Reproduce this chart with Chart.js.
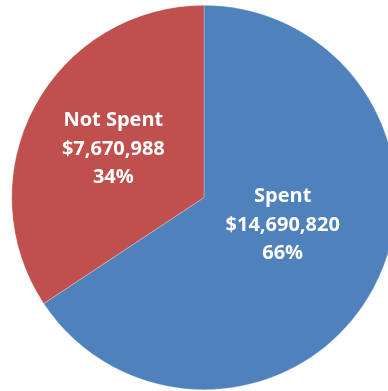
<!DOCTYPE html>
<html lang="en">
  <head>
    <meta charset="UTF-8" />
    <script src="https://cdn.jsdelivr.net/npm/chart.js"></script>
    <title>Spent vs Not Spent</title>
  </head>
  <body style="margin: 0; width: 388px; height: 391px; overflow: hidden; background: #fff">
    <div style="position: absolute; left: 0; top: 0; width: 408px; height: 395px">
      <canvas id="pie"></canvas>
    </div>
    <script>
      const labels = ['Spent', 'Not Spent'];
      const amounts = [14690820, 7670988];
      const colors = ['#4F81BD', '#C0504D'];

      const total = amounts.reduce((a, b) => a + b, 0);

      const sliceLabels = {
        id: 'sliceLabels',
        afterDatasetsDraw(chart, args, opts) {
          const ctx = chart.ctx;
          const meta = chart.getDatasetMeta(0);
          ctx.save();
          ctx.fillStyle = '#fff';
          ctx.font = 'bold 20px "Open Sans"';
          ctx.textAlign = 'center';
          ctx.textBaseline = 'middle';
          meta.data.forEach((arc, i) => {
            const p = arc.getCenterPoint();
            const off = opts.offsets[i];
            const lines = [
              labels[i],
              '$' + amounts[i].toLocaleString('en-US'),
              Math.round(amounts[i] / total * 100) + '%'
            ];
            lines.forEach((t, j) => {
              ctx.fillText(t, p.x + off[0], p.y + off[1] + (j - 1) * 28.5);
            });
          });
          ctx.restore();
        }
      };

      new Chart(document.getElementById('pie'), {
        type: 'pie',
        data: {
          labels: labels,
          datasets: [{
            data: amounts,
            backgroundColor: colors,
            borderColor: 'rgba(255,255,255,0.5)',
            borderWidth: 0.5
          }]
        },
        options: {
          responsive: true,
          maintainAspectRatio: false,
          animation: false,
          layout: { padding: 5 },
          plugins: {
            legend: { display: false },
            tooltip: { enabled: false },
            sliceLabels: { offsets: [[-6, -18], [-6, -3]] }
          }
        },
        plugins: [sliceLabels]
      });
    </script>
  </body>
</html>
